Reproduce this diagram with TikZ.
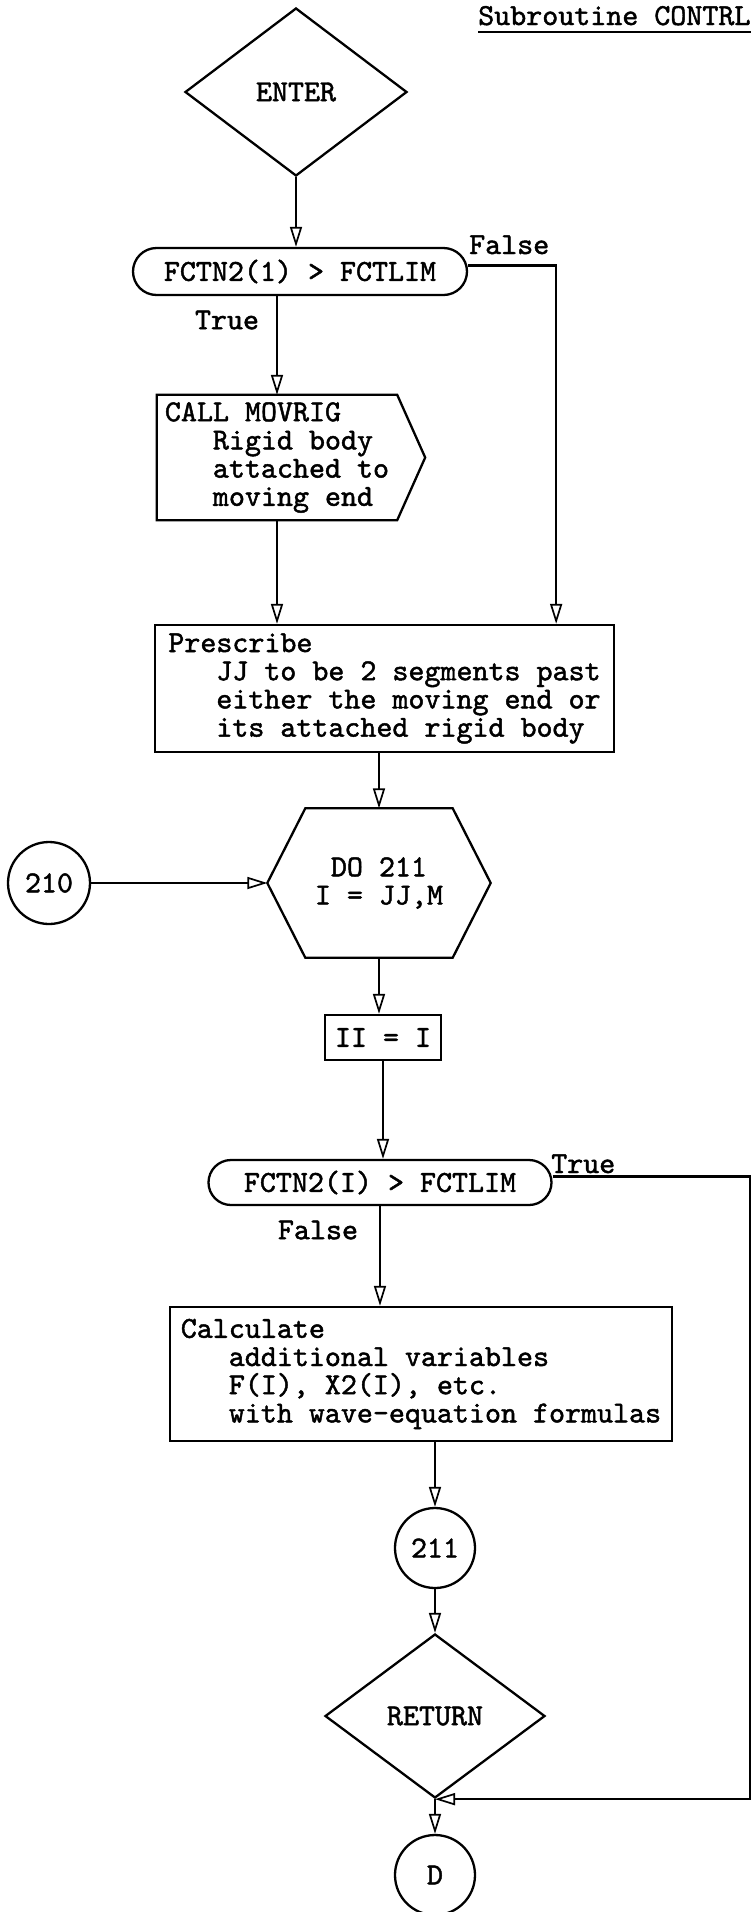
\documentclass[tikz,border=0pt]{standalone}
\usepackage{fontspec}
\newfontfamily\twfont{lmmono10-regular.otf}[FakeBold=1.5]
\usetikzlibrary{arrows.meta,shapes.geometric,shapes.misc,calc}
\begin{document}
\begin{tikzpicture}[x=1pt,y=-1pt,
  every node/.style={font=\twfont\fontsize{30.5pt}{28.2pt}\selectfont, inner sep=0pt},
  ln/.style={line width=2.3pt},
  flow/.style={line width=2.3pt, -{Triangle[open,length=20pt,width=12pt,line width=1.7pt]}},
  box/.style={draw, ln}]
\fill[white] (0,0) rectangle (753,1912);
\useasboundingbox (0,0) rectangle (753,1912);

% title
\node[anchor=base west] (title) at (478,25) {Subroutine CONTRL};
\draw[line width=1.6pt] ([yshift=-7pt]title.base west) -- ([yshift=-7pt]title.base east);

% nodes
\node[diamond, box, minimum width=222pt, minimum height=168pt] (enter) at (296,92) {ENTER};
\node[rounded rectangle, box, minimum width=334pt, minimum height=47pt] (d1) at (300,271.5) {FCTN2(1) > FCTLIM};
\node[anchor=base west] (f1lab) at (469,254) {False};
\node (t1lab) at (227,320) {True};

\node[minimum width=240pt, minimum height=125pt, align=left] (mv) at (277,457.5)
  {CALL MOVRIG\\\hspace*{48pt}Rigid body\\\hspace*{48pt}attached to\\\hspace*{48pt}moving end};
\draw[ln] (mv.north west) -- (mv.north east) -- ([xshift=28pt]mv.east) -- (mv.south east) -- (mv.south west) -- cycle;

\node[box, minimum width=459pt, minimum height=127pt, align=left] (pre) at (384.5,688.5)
  {Prescribe\\\hspace*{48pt}JJ to be 2 segments past\\\hspace*{48pt}either the moving end or\\\hspace*{48pt}its attached rigid body};

\node[minimum width=223pt, minimum height=149pt, align=center] (do) at (379,883) {DO 211\\I = JJ,M};
\draw[ln] ([xshift=38pt]do.north west) -- ([xshift=-38pt]do.north east) -- (do.east)
  -- ([xshift=-38pt]do.south east) -- ([xshift=38pt]do.south west) -- (do.west) -- cycle;

\node[circle, box, minimum size=82pt] (c210) at (49,883) {210};

\node[box, minimum width=116pt, minimum height=45pt] (ii) at (383,1037.5) {II = I};

\node[rounded rectangle, box, minimum width=343pt, minimum height=45pt] (d2) at (380,1182.5) {FCTN2(I) > FCTLIM};
\node[anchor=base west] (t2lab) at (551,1173) {True};
\node (f2lab) at (318,1230) {False};

\node[box, minimum width=502pt, minimum height=134pt, align=left] (calc) at (421,1374)
  {Calculate\\\hspace*{48pt}additional variables\\\hspace*{48pt}F(I), X2(I), etc.\\\hspace*{48pt}with wave-equation formulas};

\node[circle, box, minimum size=80pt] (c211) at (435,1548) {211};
\node[diamond, box, minimum width=220pt, minimum height=164pt] (ret) at (435,1716) {RETURN};
\node[circle, box, minimum size=80pt] (cd) at (435,1875) {D};
\coordinate (rt) at (750,0);

% connectors
\draw[flow] (enter.south) -- (enter.south |- d1.north);
\draw[flow] ([yshift=6pt]d1.east) -| ([xshift=-59pt]pre.north east);
\draw[flow] (mv.north |- d1.south) -- (mv.north);
\draw[flow] (mv.south) -- (mv.south |- pre.north);
\draw[flow] (do.north |- pre.south) -- (do.north);
\draw[flow] (c210.east) -- (do.west);
\draw[flow] (do.south) -- (do.south |- ii.north);
\draw[flow] (ii.south) -- (ii.south |- d2.north);
\draw[flow] ([yshift=6pt]d2.east) -| (rt |- ret.south) -- (ret.south);
\draw[flow] (d2.south) -- (d2.south |- calc.north);
\draw[flow] (c211.north |- calc.south) -- (c211.north);
\draw[flow] (c211.south) -- (ret.north);
\draw[flow] (ret.south) -- (cd.north);
\end{tikzpicture}
\end{document}
